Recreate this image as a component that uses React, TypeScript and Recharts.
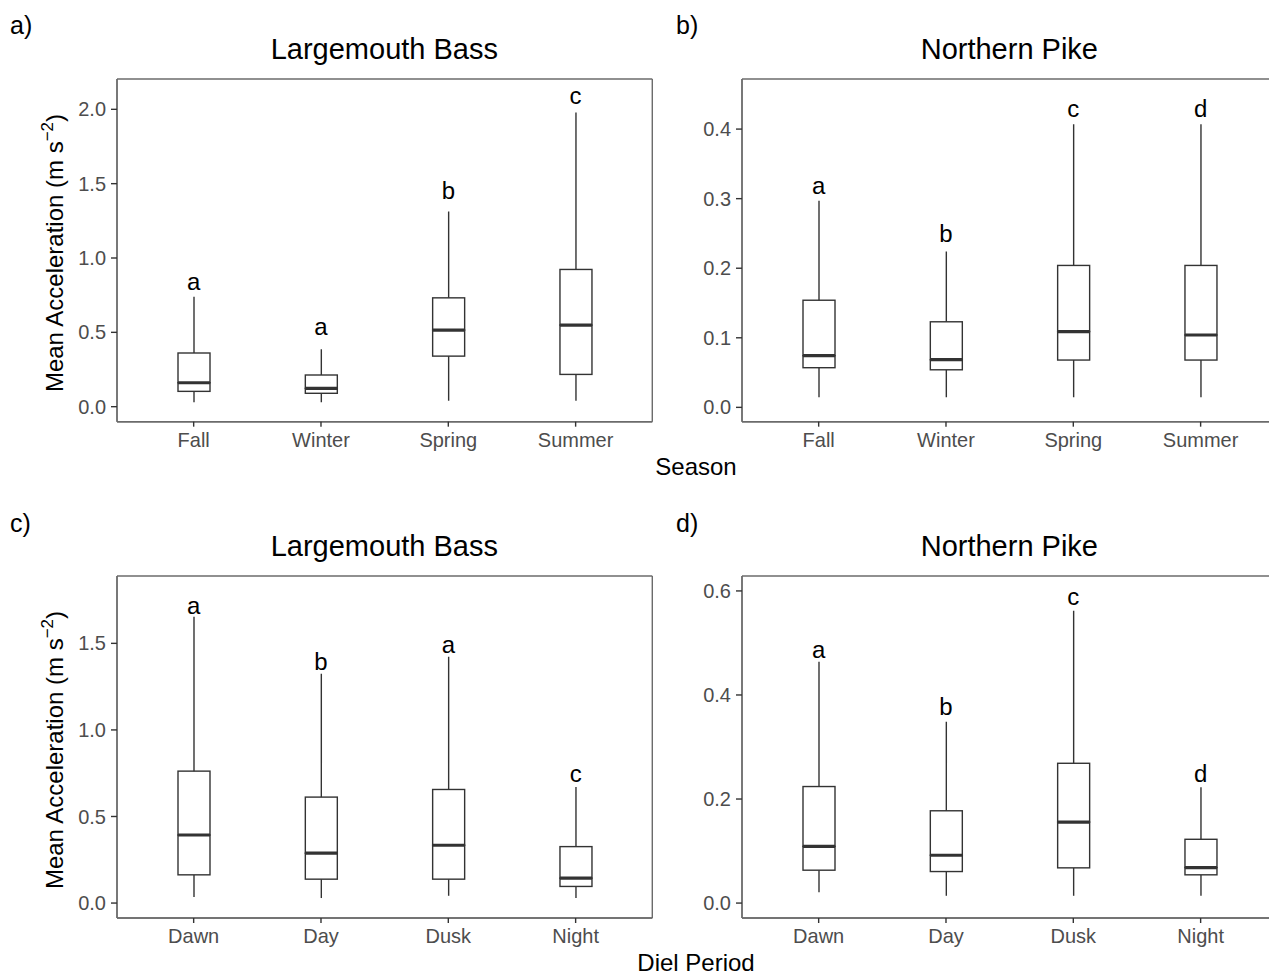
import React from 'react';
import { ComposedChart, Bar, XAxis, YAxis, Line, CartesianGrid } from 'recharts';

// ---------- categories ----------
const seasons = ['Fall', 'Winter', 'Spring', 'Summer'];
const dielPeriods = ['Dawn', 'Day', 'Dusk', 'Night'];

// ---------- a) Largemouth Bass by season ----------
const bassSeasonMin = [0.029, 0.029, 0.04, 0.04];
const bassSeasonQ1 = [0.103, 0.09, 0.34, 0.217];
const bassSeasonMedian = [0.161, 0.123, 0.515, 0.549];
const bassSeasonQ3 = [0.361, 0.213, 0.732, 0.923];
const bassSeasonMax = [0.739, 0.387, 1.312, 1.978];
const bassSeasonLetters = ['a', 'a', 'b', 'c'];
const bassSeasonLetterY = [0.784, 0.484, 1.4, 2.038];
const bassSeasonTicks = [0, 0.5, 1.0, 1.5, 2.0];
const bassSeasonDomain = [-0.101, 2.204];

// ---------- b) Northern Pike by season ----------
const pikeSeasonMin = [0.0144, 0.0144, 0.0144, 0.0144];
const pikeSeasonQ1 = [0.057, 0.054, 0.068, 0.068];
const pikeSeasonMedian = [0.0743, 0.0685, 0.109, 0.104];
const pikeSeasonQ3 = [0.154, 0.123, 0.204, 0.204];
const pikeSeasonMax = [0.297, 0.224, 0.407, 0.407];
const pikeSeasonLetters = ['a', 'b', 'c', 'd'];
const pikeSeasonLetterY = [0.3066, 0.238, 0.4168, 0.4177];
const pikeSeasonTicks = [0, 0.1, 0.2, 0.3, 0.4];
const pikeSeasonDomain = [-0.0206, 0.472];

// ---------- c) Largemouth Bass by diel period ----------
const bassDielMin = [0.0345, 0.029, 0.042, 0.029];
const bassDielQ1 = [0.163, 0.138, 0.138, 0.096];
const bassDielMedian = [0.393, 0.288, 0.334, 0.144];
const bassDielQ3 = [0.762, 0.612, 0.656, 0.326];
const bassDielMax = [1.654, 1.324, 1.423, 0.671];
const bassDielLetters = ['a', 'b', 'a', 'c'];
const bassDielLetterY = [1.669, 1.3486, 1.4445, 0.7];
const bassDielTicks = [0, 0.5, 1.0, 1.5];
const bassDielDomain = [-0.0863, 1.889];

// ---------- d) Northern Pike by diel period ----------
const pikeDielMin = [0.021, 0.014, 0.014, 0.014];
const pikeDielQ1 = [0.0632, 0.0606, 0.0677, 0.0543];
const pikeDielMedian = [0.109, 0.0919, 0.1557, 0.0683];
const pikeDielQ3 = [0.224, 0.1774, 0.2687, 0.1226];
const pikeDielMax = [0.464, 0.3485, 0.5617, 0.2228];
const pikeDielLetters = ['a', 'b', 'c', 'd'];
const pikeDielLetterY = [0.471, 0.362, 0.5725, 0.233];
const pikeDielTicks = [0, 0.2, 0.4, 0.6];
const pikeDielDomain = [-0.0287, 0.6287];

// ---------- styling ----------
const FONT = '"Liberation Sans", Arial, Helvetica, sans-serif';
const BOX = '#333333';
const BORDER = '#6b6b6b';
const TICK_TEXT = '#4d4d4d';

function buildRows(cats: string[], mn: number[], q1: number[], med: number[], q3: number[], mx: number[], letters: string[], letterY: number[]) {
  return cats.map((c, i) => ({
    cat: c,
    base: mn[i],
    lowW: q1[i] - mn[i],
    boxLo: med[i] - q1[i],
    boxHi: q3[i] - med[i],
    highW: mx[i] - q3[i],
    letter: letters[i],
    letterY: letterY[i],
  }));
}

const Empty = () => <g />;

const Whisker = (p: any) => {
  const { x, y, width, height } = p;
  if (x == null || y == null) return <g />;
  const cx = x + width / 2;
  return <line x1={cx} x2={cx} y1={y} y2={y + height} stroke={BOX} strokeWidth={1.4} />;
};

const BoxLower = (p: any) => {
  const { x, y, width, height } = p;
  if (x == null || y == null) return <g />;
  return <rect x={x} y={y} width={width} height={height} fill="#ffffff" stroke={BOX} strokeWidth={1.4} />;
};

const BoxUpper = (p: any) => {
  const { x, y, width, height } = p;
  if (x == null || y == null) return <g />;
  return (
    <g>
      <rect x={x} y={y} width={width} height={height} fill="#ffffff" stroke={BOX} strokeWidth={1.4} />
      <line x1={x} x2={x + width} y1={y + height} y2={y + height} stroke={BOX} strokeWidth={3.2} />
    </g>
  );
};

const LetterDot = (p: any) => {
  if (p.cx == null || p.cy == null) return <g key={`l${p.index}`} />;
  return (
    <text key={`l${p.index}`} x={p.cx} y={p.cy} textAnchor="middle" fontSize={24} fontFamily={FONT} fill="#000">
      {p.payload.letter}
    </text>
  );
};

// panel border drawn as grid lines at the edges of the plotting area
const borderH = (arg: any) => [arg.offset.top, arg.offset.top + arg.offset.height];
const borderV = (arg: any) => [arg.offset.left, arg.offset.left + arg.offset.width];

type PanelProps = {
  rows: any[];
  ticks: number[];
  domain: number[];
  plotLeft: number;
  plotTop: number;
  plotW: number;
  plotH: number;
};

const Y_W = 60;
const X_H = 60;

function Panel({ rows, ticks, domain, plotLeft, plotTop, plotW, plotH }: PanelProps) {
  const marginLeft = 60;
  const marginTop = 20;
  const marginRight = 10;
  const width = marginLeft + Y_W + plotW + marginRight;
  const height = marginTop + plotH + X_H;
  return (
    <div style={{ position: 'absolute', left: plotLeft - marginLeft - Y_W, top: plotTop - marginTop }}>
      <ComposedChart
        width={width}
        height={height}
        data={rows}
        margin={{ top: marginTop, right: marginRight, left: marginLeft, bottom: 0 }}
        barSize={32}
      >
        <CartesianGrid
          stroke={BORDER}
          strokeWidth={1.4}
          strokeDasharray=""
          horizontalCoordinatesGenerator={borderH}
          verticalCoordinatesGenerator={borderV}
        />
        <XAxis
          dataKey="cat"
          type="category"
          interval={0}
          padding={{ left: 13, right: 13 }}
          height={X_H}
          tickSize={5}
          tickMargin={6}
          tick={{ fontSize: 20, fill: TICK_TEXT, fontFamily: FONT }}
          tickLine={{ stroke: BOX, strokeWidth: 1.4 }}
          axisLine={{ stroke: BORDER, strokeWidth: 1.4 }}
        />
        <YAxis
          type="number"
          domain={domain}
          allowDataOverflow
          ticks={ticks}
          interval={0}
          width={Y_W}
          tickSize={6}
          tickMargin={5}
          tickFormatter={(v: number) => v.toFixed(1)}
          tick={{ fontSize: 20, fill: TICK_TEXT, fontFamily: FONT }}
          tickLine={{ stroke: BOX, strokeWidth: 1.4 }}
          axisLine={{ stroke: BORDER, strokeWidth: 1.4 }}
        />
        <Bar dataKey="base" stackId="box" shape={Empty} isAnimationActive={false} />
        <Bar dataKey="lowW" stackId="box" shape={Whisker} isAnimationActive={false} />
        <Bar dataKey="boxLo" stackId="box" shape={BoxLower} isAnimationActive={false} />
        <Bar dataKey="boxHi" stackId="box" shape={BoxUpper} isAnimationActive={false} />
        <Bar dataKey="highW" stackId="box" shape={Whisker} isAnimationActive={false} />
        <Line
          dataKey="letterY"
          stroke="none"
          dot={LetterDot}
          activeDot={false}
          isAnimationActive={false}
        />
      </ComposedChart>
    </div>
  );
}

const rowsA = buildRows(seasons, bassSeasonMin, bassSeasonQ1, bassSeasonMedian, bassSeasonQ3, bassSeasonMax, bassSeasonLetters, bassSeasonLetterY);
const rowsB = buildRows(seasons, pikeSeasonMin, pikeSeasonQ1, pikeSeasonMedian, pikeSeasonQ3, pikeSeasonMax, pikeSeasonLetters, pikeSeasonLetterY);
const rowsC = buildRows(dielPeriods, bassDielMin, bassDielQ1, bassDielMedian, bassDielQ3, bassDielMax, bassDielLetters, bassDielLetterY);
const rowsD = buildRows(dielPeriods, pikeDielMin, pikeDielQ1, pikeDielMedian, pikeDielQ3, pikeDielMax, pikeDielLetters, pikeDielLetterY);

const LEFT_X = 116.7;
const RIGHT_X = 741.7;
const TOP_Y = 79;
const BOT_Y = 576;
const PW = 535.3;

function YTitle({ cx, cy }: { cx: number; cy: number }) {
  return (
    <text
      transform={`translate(${cx},${cy}) rotate(-90)`}
      textAnchor="middle"
      fontSize={24}
      fontFamily={FONT}
      fill="#000"
    >
      Mean Acceleration (m s
      <tspan fontSize={17} dy={-10}>−2</tspan>
      <tspan dy={10}>)</tspan>
    </text>
  );
}

export default function App() {
  return (
    <div
      style={{
        position: 'absolute',
        left: 0,
        top: 0,
        width: 1269,
        height: 975,
        overflow: 'hidden',
        background: '#ffffff',
      }}
    >
      <Panel rows={rowsA} ticks={bassSeasonTicks} domain={bassSeasonDomain} plotLeft={LEFT_X} plotTop={TOP_Y} plotW={PW} plotH={342.7} />
      <Panel rows={rowsB} ticks={pikeSeasonTicks} domain={pikeSeasonDomain} plotLeft={RIGHT_X} plotTop={TOP_Y} plotW={PW} plotH={342.7} />
      <Panel rows={rowsC} ticks={bassDielTicks} domain={bassDielDomain} plotLeft={LEFT_X} plotTop={BOT_Y} plotW={PW} plotH={342} />
      <Panel rows={rowsD} ticks={pikeDielTicks} domain={pikeDielDomain} plotLeft={RIGHT_X} plotTop={BOT_Y} plotW={PW} plotH={342} />
      <svg
        width={1269}
        height={975}
        style={{ position: 'absolute', left: 0, top: 0, pointerEvents: 'none' }}
      >
        <g fontFamily={FONT} fill="#000">
          <text x={10} y={34} fontSize={25}>a)</text>
          <text x={676} y={34} fontSize={25}>b)</text>
          <text x={10} y={532} fontSize={25}>c)</text>
          <text x={676} y={532} fontSize={25}>d)</text>
          <text x={LEFT_X + PW / 2} y={59} fontSize={29} textAnchor="middle">Largemouth Bass</text>
          <text x={RIGHT_X + PW / 2} y={59} fontSize={29} textAnchor="middle">Northern Pike</text>
          <text x={LEFT_X + PW / 2} y={556} fontSize={29} textAnchor="middle">Largemouth Bass</text>
          <text x={RIGHT_X + PW / 2} y={556} fontSize={29} textAnchor="middle">Northern Pike</text>
          <text x={696} y={475} fontSize={24} textAnchor="middle">Season</text>
          <text x={696} y={971} fontSize={24} textAnchor="middle">Diel Period</text>
        </g>
        <YTitle cx={63} cy={253} />
        <YTitle cx={63} cy={750} />
      </svg>
    </div>
  );
}
